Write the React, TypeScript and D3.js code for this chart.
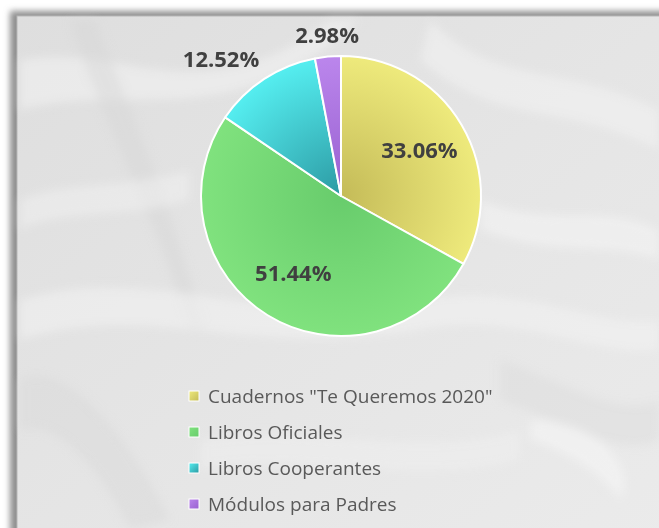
import React, { useEffect, useRef } from "react";
import * as d3 from "d3";

const categories = [
  "Cuadernos \"Te Queremos 2020\"",
  "Libros Oficiales",
  "Libros Cooperantes",
  "Módulos para Padres",
];
const values = [33.06, 51.44, 12.52, 2.98];
const labels = ["33.06%", "51.44%", "12.52%", "2.98%"];
const insideLabel = [true, true, false, false];
// [light, dark] per slice
const colors = [
  ["#eeea7c", "#c4bb58"],
  ["#80e27e", "#68cc6c"],
  ["#55eef0", "#2c9aa3"],
  ["#bb86ec", "#9860d0"],
];

const App = () => {
  const ref = useRef<HTMLDivElement>(null);

  useEffect(() => {
    const container = ref.current;
    if (!container) return;
    container.innerHTML = "";

    const width = 659;
    const height = 528;
    const cx = 341;
    const cy = 196;
    const r = 140;

    const svg = d3.create("svg")
      .attr("width", width)
      .attr("height", height)
      .attr("style", "display:block; font-family: 'Open Sans', sans-serif;");

    const defs = svg.append("defs");
    const bg = defs.append("linearGradient").attr("id", "bg")
      .attr("x1", 0).attr("y1", 0).attr("x2", 1).attr("y2", 1);
    bg.append("stop").attr("offset", "0%").attr("stop-color", "#dedede");
    bg.append("stop").attr("offset", "50%").attr("stop-color", "#e5e5e5");
    bg.append("stop").attr("offset", "100%").attr("stop-color", "#ebebeb");

    defs.append("filter").attr("id", "blur")
      .attr("x", "-20%").attr("y", "-20%").attr("width", "140%").attr("height", "140%")
      .append("feGaussianBlur").attr("stdDeviation", 5);
    const sh = defs.append("filter").attr("id", "shadow")
      .attr("x", "-5%").attr("y", "-5%").attr("width", "110%").attr("height", "110%");
    sh.append("feGaussianBlur").attr("stdDeviation", 3);

    colors.forEach((c, i) => {
      const g = defs.append("radialGradient").attr("id", `sl${i}`)
        .attr("gradientUnits", "userSpaceOnUse")
        .attr("cx", 0).attr("cy", 0).attr("r", r);
      g.append("stop").attr("offset", "0%").attr("stop-color", c[1]);
      g.append("stop").attr("offset", "100%").attr("stop-color", c[0]);
      const lg = defs.append("linearGradient").attr("id", `lg${i}`)
        .attr("x1", 0).attr("y1", 0).attr("x2", 1).attr("y2", 1);
      lg.append("stop").attr("offset", "0%").attr("stop-color", c[0]);
      lg.append("stop").attr("offset", "100%").attr("stop-color", c[1]);
    });

    svg.append("rect").attr("width", width).attr("height", height).attr("fill", "#ffffff");

    // frame shadow + panel
    svg.append("rect")
      .attr("x", 10).attr("y", 11).attr("width", width).attr("height", height)
      .attr("fill", "#8f8f8f").attr("filter", "url(#shadow)");
    svg.append("rect")
      .attr("x", 17).attr("y", 16).attr("width", width).attr("height", height)
      .attr("fill", "url(#bg)").attr("stroke", "#b8b8b8").attr("stroke-width", 1);

    // crumpled paper streaks
    const tex = svg.append("g").attr("filter", "url(#blur)");
    const streaks = [
      { d: "M20,60 C120,40 200,120 330,20 L360,20 C230,140 130,80 20,110 Z", f: "#f2f2f2", o: 0.6 },
      { d: "M70,20 C100,120 150,200 190,330 L205,330 C170,200 130,110 95,20 Z", f: "#d8d8d8", o: 0.5 },
      { d: "M430,20 C500,90 560,60 659,110 L659,150 C560,100 500,130 420,60 Z", f: "#f2f2f2", o: 0.6 },
      { d: "M480,200 C560,230 600,200 659,230 L659,260 C600,240 560,260 480,230 Z", f: "#f4f4f4", o: 0.6 },
      { d: "M20,300 C150,260 250,330 420,300 C520,280 600,330 659,320 L659,350 C600,360 520,310 420,330 C250,360 150,300 20,340 Z", f: "#f1f1f1", o: 0.6 },
      { d: "M20,380 C60,360 120,420 170,520 L130,528 C90,450 50,420 20,430 Z", f: "#d9d9d9", o: 0.5 },
      { d: "M500,360 C560,380 620,420 659,400 L659,440 C620,460 560,420 500,400 Z", f: "#d9d9d9", o: 0.4 },
      { d: "M530,420 C600,420 640,470 620,500 C600,470 560,450 530,440 Z", f: "#f5f5f5", o: 0.6 },
      { d: "M20,200 C60,180 120,190 190,170 L190,200 C120,220 60,210 20,230 Z", f: "#f2f2f2", o: 0.5 },
      { d: "M200,440 C300,420 420,460 520,430 L520,460 C420,490 300,450 200,470 Z", f: "#efefef", o: 0.5 },
    ];
    tex.selectAll("path").data(streaks).join("path")
      .attr("d", d => d.d).attr("fill", d => d.f).attr("opacity", d => d.o);

    const pie = d3.pie<number>().sort(null).value(d => d);
    const arcs = pie(values);
    const arc = d3.arc<d3.PieArcDatum<number>>().innerRadius(0).outerRadius(r);

    const g = svg.append("g").attr("transform", `translate(${cx},${cy})`);
    g.selectAll("path").data(arcs).join("path")
      .attr("d", arc)
      .attr("fill", (d, i) => `url(#sl${i})`)
      .attr("stroke", "#ffffff")
      .attr("stroke-width", 2)
      .attr("stroke-linejoin", "round");

    const inner = d3.arc<d3.PieArcDatum<number>>().innerRadius(r * 0.65).outerRadius(r * 0.65);
    arcs.forEach((a, i) => {
      const mid = (a.startAngle + a.endAngle) / 2;
      const t = g.append("text")
        .attr("fill", "#404040")
        .attr("font-weight", 700)
        .attr("font-size", 22)
        .text(labels[i]);
      if (insideLabel[i]) {
        const [x, y] = inner.centroid(a);
        t.attr("x", x).attr("y", y).attr("text-anchor", "middle").attr("dy", "0.35em");
      } else {
        const rr = r + 9;
        const x = Math.sin(mid) * rr;
        const y = -Math.cos(mid) * rr;
        const s = Math.sin(mid);
        t.attr("x", x).attr("y", y)
          .attr("text-anchor", Math.abs(s) < 0.3 ? "middle" : s < 0 ? "end" : "start")
          .attr("dy", y < 0 ? "-0.2em" : "0.9em");
      }
    });

    // legend
    const legend = svg.append("g").attr("transform", "translate(189,396)");
    const row = legend.selectAll("g").data(categories).join("g")
      .attr("transform", (d, i) => `translate(0,${i * 36})`);
    row.append("rect")
      .attr("x", 0).attr("y", -5).attr("width", 10).attr("height", 10)
      .attr("fill", (d, i) => `url(#lg${i})`)
      .attr("stroke", "#ffffff").attr("stroke-width", 1);
    row.append("text")
      .attr("x", 19).attr("dy", "0.35em")
      .attr("font-size", 19)
      .attr("fill", "#595959")
      .text(d => d);

    container.appendChild(svg.node()!);
  }, []);

  return <div ref={ref} style={{ position: "absolute", left: 0, top: 0 }} />;
};

export default App;
